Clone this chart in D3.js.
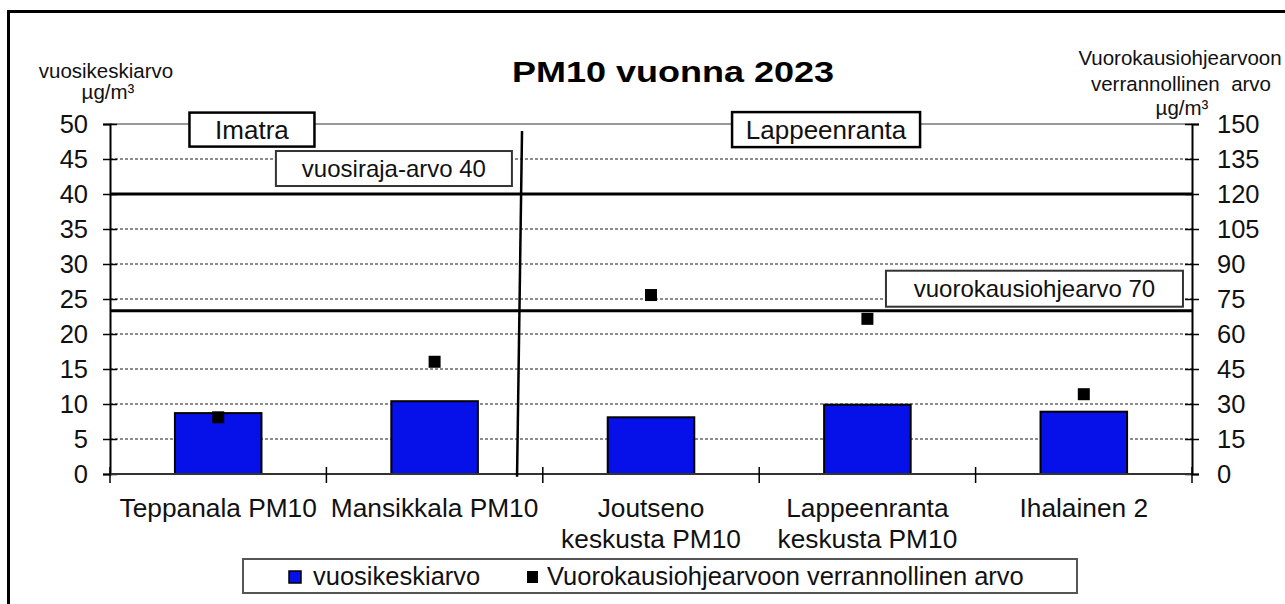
<!DOCTYPE html>
<html>
<head>
<meta charset="utf-8">
<script src="https://cdn.jsdelivr.net/npm/d3@7"></script>
<style>
  html, body { margin: 0; padding: 0; background: #fff; overflow: hidden; }
  svg { display: block; font-family: "Liberation Sans", Arial, sans-serif; }
</style>
</head>
<body>
<svg id="chart" width="1285" height="604"></svg>
<script>
// Measuring stations (line breaks mark two-line labels)
const categories = [
  "Teppanala PM10",
  "Mansikkala PM10",
  "Joutseno\nkeskusta PM10",
  "Lappeenranta\nkeskusta PM10",
  "Ihalainen 2"
];
// Annual mean, µg/m³ (left axis)
const annualMean = [8.7, 10.4, 8.1, 9.9, 8.9];
// Value comparable to the daily guideline, µg/m³ (right axis)
const dailyComparable = [24.3, 48.1, 76.7, 66.5, 34.2];
// Axis ticks
const leftTicks = [0, 5, 10, 15, 20, 25, 30, 35, 40, 45, 50];
const rightTicks = [0, 15, 30, 45, 60, 75, 90, 105, 120, 135, 150];
// Reference levels
const annualLimit = 40;   // left axis
const dailyGuide = 70;    // right axis
const seriesNames = ["vuosikeskiarvo", "Vuorokausiohjearvoon verrannollinen arvo"];

const svg = d3.select("#chart");
const plot = { left: 110, right: 1192, top: 124, bottom: 474 };
const FONT = 25.5;

const x = d3.scaleBand().domain(categories).range([plot.left, plot.right]).paddingInner(0).paddingOuter(0);
const pos = d3.scaleLinear().domain([0, categories.length]).range([plot.left, plot.right]);
const yL = d3.scaleLinear().domain([0, 50]).range([plot.bottom, plot.top]);
const yR = d3.scaleLinear().domain([0, 150]).range([plot.bottom, plot.top]);

// Outer frame
svg.append("rect").attr("x", 8.5).attr("y", 11.5).attr("width", 1400).attr("height", 800)
  .attr("fill", "none").attr("stroke", "#000").attr("stroke-width", 3);

// Title
svg.append("text")
  .attr("transform", `translate(673,82) scale(1.2,1)`)
  .attr("text-anchor", "middle").attr("font-size", 30).attr("font-weight", "bold")
  .text("PM10 vuonna 2023");

// Axis titles
const lt = svg.append("text").attr("text-anchor", "middle").attr("font-size", 20.5).attr("fill", "#111");
lt.append("tspan").attr("x", 106).attr("y", 78).text("vuosikeskiarvo");
lt.append("tspan").attr("x", 108).attr("y", 99).text("µg/m³");
const rt = svg.append("text").attr("text-anchor", "middle").attr("font-size", 20.5).attr("fill", "#111");
rt.append("tspan").attr("x", 1180).attr("y", 65).text("Vuorokausiohjearvoon");
rt.append("tspan").attr("x", 1181).attr("y", 91).style("white-space", "pre").text("verrannollinen  arvo");
rt.append("tspan").attr("x", 1182).attr("y", 115).text("µg/m³");

// Gridlines
svg.append("g").selectAll("line").data(leftTicks.filter(d => d > 0 && d < 50)).join("line")
  .attr("x1", plot.left).attr("x2", plot.right)
  .attr("y1", d => yL(d)).attr("y2", d => yL(d))
  .attr("stroke", "#1a1a1a").attr("stroke-width", 1).attr("stroke-dasharray", "3,2");
svg.append("line").attr("x1", plot.left).attr("x2", plot.right)
  .attr("y1", yL(50)).attr("y2", yL(50)).attr("stroke", "#999").attr("stroke-width", 2);

// Reference level lines
svg.append("line").attr("x1", plot.left).attr("x2", plot.right)
  .attr("y1", yL(annualLimit)).attr("y2", yL(annualLimit))
  .attr("stroke", "#000").attr("stroke-width", 3);
svg.append("line").attr("x1", plot.left).attr("x2", plot.right)
  .attr("y1", yR(dailyGuide)).attr("y2", yR(dailyGuide))
  .attr("stroke", "#000").attr("stroke-width", 3);

// Bars: annual mean
const bw = x.bandwidth() * 0.4;
svg.append("g").selectAll("rect").data(annualMean).join("rect")
  .attr("x", (d, i) => x(categories[i]) + x.bandwidth() / 2 - bw / 2)
  .attr("width", bw)
  .attr("y", d => yL(d))
  .attr("height", d => yL(0) - yL(d))
  .attr("fill", "#0610e8").attr("stroke", "#000").attr("stroke-width", 2);

// Left axis
const axL = svg.append("g").attr("transform", `translate(${plot.left},0)`)
  .call(d3.axisLeft(yL).tickValues(leftTicks).tickSize(7).tickPadding(15));
axL.select(".domain").attr("stroke", "#000").attr("stroke-width", 2);
axL.selectAll(".tick line").attr("x1", 7).attr("x2", -7).attr("stroke", "#000").attr("stroke-width", 1.5);
axL.selectAll(".tick text").attr("font-size", FONT).attr("font-family", "Liberation Sans, Arial, sans-serif").attr("fill", "#111");

// Right axis
const axR = svg.append("g").attr("transform", `translate(${plot.right},0)`)
  .call(d3.axisRight(yR).tickValues(rightTicks).tickSize(7).tickPadding(18));
axR.select(".domain").attr("stroke", "#000").attr("stroke-width", 2);
axR.selectAll(".tick line").attr("x1", -7).attr("x2", 7).attr("stroke", "#000").attr("stroke-width", 1.5);
axR.selectAll(".tick text").attr("font-size", FONT).attr("font-family", "Liberation Sans, Arial, sans-serif").attr("fill", "#111");

// Bottom axis
svg.append("line").attr("x1", plot.left).attr("x2", plot.right)
  .attr("y1", plot.bottom).attr("y2", plot.bottom).attr("stroke", "#333").attr("stroke-width", 2);
svg.append("g").selectAll("line").data(d3.range(categories.length + 1)).join("line")
  .attr("x1", d => pos(d)).attr("x2", d => pos(d))
  .attr("y1", plot.bottom - 7).attr("y2", plot.bottom + 9)
  .attr("stroke", "#000").attr("stroke-width", 1.5);
const cl = svg.append("g").selectAll("text").data(categories).join("text")
  .attr("text-anchor", "middle").attr("font-size", FONT + 0.8).attr("fill", "#111");
cl.each(function (d) {
  const t = d3.select(this);
  d.split("\n").forEach((line, k) => {
    t.append("tspan").attr("x", x(d) + x.bandwidth() / 2).attr("y", 517 + k * 31).text(line);
  });
});

// Region divider
svg.append("line")
  .attr("x1", pos(1.904)).attr("y1", yL(49.0))
  .attr("x2", pos(1.881)).attr("y2", yL(-0.4))
  .attr("stroke", "#000").attr("stroke-width", 2.5);

// Markers: daily comparable value
const ms = 12;
svg.append("g").selectAll("rect").data(dailyComparable).join("rect")
  .attr("x", (d, i) => x(categories[i]) + x.bandwidth() / 2 - ms / 2)
  .attr("y", d => yR(d) - ms / 2)
  .attr("width", ms).attr("height", ms).attr("fill", "#000");

// Label boxes
function labelBox(text, cx, cy, w, h, size, stroke, sw) {
  const g = svg.append("g");
  g.append("rect").attr("x", cx - w / 2).attr("y", cy - h / 2).attr("width", w).attr("height", h)
    .attr("fill", "#fff").attr("stroke", stroke).attr("stroke-width", sw);
  g.append("text").attr("x", cx).attr("y", cy).attr("dy", "0.36em")
    .attr("text-anchor", "middle").attr("font-size", size).attr("fill", "#111").text(text);
}
labelBox("Imatra", pos(0.656), yL(49.2), 125, 34, 26, "#000", 2.5);
labelBox("Lappeenranta", pos(3.309), yL(49.2), 188, 35, 26, "#000", 2.5);
labelBox("vuosiraja-arvo " + annualLimit, pos(1.312), yL(43.64), 236, 35, 24, "#333", 2);
labelBox("vuorokausiohjearvo " + dailyGuide, pos(4.272), yL(26.47), 297, 36, 24, "#333", 2);

// Legend
const lg = svg.append("g");
lg.append("rect").attr("x", 243).attr("y", 559).attr("width", 834).attr("height", 34)
  .attr("fill", "#fff").attr("stroke", "#555").attr("stroke-width", 2);
lg.append("rect").attr("x", 289).attr("y", 571).attr("width", 12).attr("height", 12)
  .attr("fill", "#0610e8").attr("stroke", "#000").attr("stroke-width", 1.5);
lg.append("text").attr("x", 313).attr("y", 585).attr("font-size", FONT).attr("fill", "#111").text(seriesNames[0]);
lg.append("rect").attr("x", 527).attr("y", 571).attr("width", 11).attr("height", 12).attr("fill", "#000");
lg.append("text").attr("x", 547).attr("y", 585).attr("font-size", FONT).attr("fill", "#111").text(seriesNames[1]);
</script>
</body>
</html>
